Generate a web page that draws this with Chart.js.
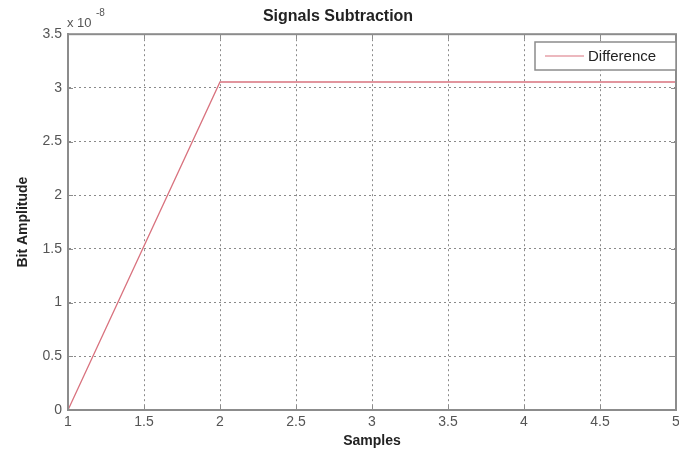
<!DOCTYPE html>
<html>
<head>
<meta charset="utf-8">
<script src="https://cdn.jsdelivr.net/npm/chart.js@4.4.0/dist/chart.umd.min.js"></script>
<style>
  html, body { margin: 0; padding: 0; background: #fff; overflow: hidden; }
  #wrap { width: 679px; height: 452px; overflow: hidden; position: relative; }
</style>
</head>
<body>
<div id="wrap"><canvas id="diffChart" width="700" height="452"></canvas></div>
<script>
const samples = [1, 2, 3, 4, 5];
const diffValues = [0, 3.055e-8, 3.055e-8, 3.055e-8, 3.055e-8];
const xTicks = [1, 1.5, 2, 2.5, 3, 3.5, 4, 4.5, 5];
const yTicks = [0, 0.5e-8, 1e-8, 1.5e-8, 2e-8, 2.5e-8, 3e-8, 3.5e-8];
const seriesLabel = 'Difference';
const exponentText = '-8';

const FONT = '"Liberation Sans", Arial, sans-serif';
const lineColor = '#d9737f';
const axisColor = '#8c8c8c';

const matlabBox = {
  id: 'matlabBox',
  afterDatasetsDraw(chart) {
    const { ctx, chartArea: a, scales } = chart;
    ctx.save();
    ctx.strokeStyle = axisColor;
    ctx.lineWidth = 1;
    // inner tick marks on all four sides
    xTicks.forEach(v => {
      const px = Math.round(scales.x.getPixelForValue(v)) + 0.5;
      ctx.beginPath();
      ctx.moveTo(px, a.bottom); ctx.lineTo(px, a.bottom - 5);
      ctx.moveTo(px, a.top); ctx.lineTo(px, a.top + 5);
      ctx.stroke();
    });
    yTicks.forEach(v => {
      const py = Math.round(scales.y.getPixelForValue(v)) + 0.5;
      ctx.beginPath();
      ctx.moveTo(a.left, py); ctx.lineTo(a.left + 5, py);
      ctx.moveTo(a.right, py); ctx.lineTo(a.right - 5, py);
      ctx.stroke();
    });
    // box
    ctx.lineWidth = 2;
    ctx.strokeRect(a.left, a.top, a.right - a.left, a.bottom - a.top);

    // exponent label
    ctx.fillStyle = '#555';
    ctx.font = '13px ' + FONT;
    ctx.textBaseline = 'alphabetic';
    ctx.textAlign = 'left';
    ctx.fillText('x 10', a.left - 1, a.top - 7);
    ctx.font = '10px ' + FONT;
    ctx.fillText(exponentText, a.left + 28, a.top - 18);

    // legend box
    const lx = 535, ly = 42, lw = 141, lh = 28;
    ctx.fillStyle = '#fff';
    ctx.fillRect(lx, ly, lw, lh);
    ctx.strokeStyle = '#8c8c8c';
    ctx.lineWidth = 1.5;
    ctx.strokeRect(lx, ly, lw, lh);
    ctx.strokeStyle = lineColor;
    ctx.lineWidth = 1.2;
    ctx.beginPath();
    ctx.moveTo(545, ly + lh / 2); ctx.lineTo(584, ly + lh / 2);
    ctx.stroke();
    ctx.fillStyle = '#222';
    ctx.font = '15px ' + FONT;
    ctx.textBaseline = 'middle';
    ctx.fillText(chart.data.datasets[0].label, 588, ly + lh / 2 + 1);
    ctx.restore();
  }
};

new Chart(document.getElementById('diffChart'), {
  type: 'line',
  data: {
    datasets: [{
      label: seriesLabel,
      data: samples.map((s, i) => ({ x: s, y: diffValues[i] })),
      borderColor: lineColor,
      borderWidth: 1.3,
      pointRadius: 0,
      tension: 0,
      fill: false
    }]
  },
  options: {
    responsive: false,
    animation: false,
    layout: { padding: { left: 0, right: 24, top: 0, bottom: 0 } },
    plugins: {
      legend: { display: false },
      tooltip: { enabled: false },
      title: {
        display: true,
        text: 'Signals Subtraction',
        color: '#222',
        font: { family: FONT, size: 16, weight: 'bold' },
        padding: { top: 7, bottom: 8 }
      }
    },
    scales: {
      x: {
        type: 'linear',
        min: 1,
        max: 5,
        afterBuildTicks: s => { s.ticks = xTicks.map(v => ({ value: v })); },
        afterFit: s => { s.height = 42; },
        ticks: {
          color: '#555',
          font: { family: FONT, size: 14 },
          padding: 4,
          maxRotation: 0,
          callback: v => String(v)
        },
        grid: { color: '#8a8a8a', drawTicks: false, lineWidth: 1 },
        border: { display: true, color: axisColor, width: 2, dash: [2, 3] },
        title: {
          display: true,
          text: 'Samples',
          color: '#222',
          font: { family: FONT, size: 14, weight: 'bold' },
          padding: { top: 0, bottom: 2 }
        }
      },
      y: {
        min: 0,
        max: 3.5e-8,
        afterBuildTicks: s => { s.ticks = yTicks.map(v => ({ value: v })); },
        afterFit: s => { s.width = 68; },
        ticks: {
          color: '#555',
          font: { family: FONT, size: 14 },
          padding: 6,
          callback: v => String(Math.round(v / 1e-9) / 10)
        },
        grid: { color: '#8a8a8a', drawTicks: false, lineWidth: 1 },
        border: { display: true, color: axisColor, width: 2, dash: [2, 3] },
        title: {
          display: true,
          text: 'Bit Amplitude',
          color: '#222',
          font: { family: FONT, size: 14, weight: 'bold' },
          padding: { top: 15, bottom: 0 }
        }
      }
    }
  },
  plugins: [matlabBox]
});
</script>
</body>
</html>
